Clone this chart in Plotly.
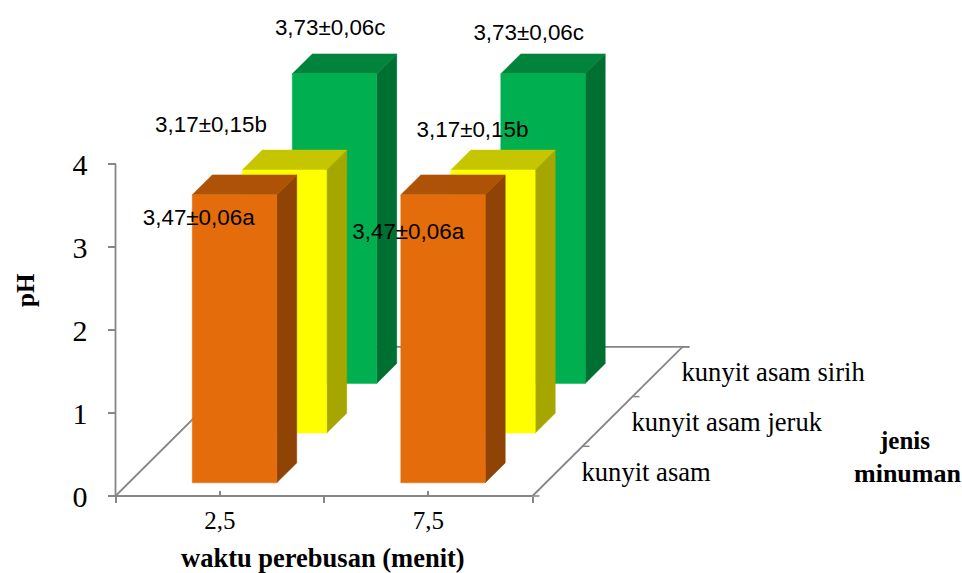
import plotly.graph_objects as go

# Chart data
times = ["2,5", "7,5"]
drinks = ["kunyit asam", "kunyit asam jeruk", "kunyit asam sirih"]
ph_asam = [3.47, 3.47]
ph_jeruk = [3.17, 3.17]
ph_sirih = [3.73, 3.73]
notes_asam = ["3,47±0,06a", "3,47±0,06a"]
notes_jeruk = ["3,17±0,15b", "3,17±0,15b"]
notes_sirih = ["3,73±0,06c", "3,73±0,06c"]
y_ticks = [0, 1, 2, 3, 4]

WIDTH = 962
HEIGHT = 573
# Where the origin of the chart sits on the page, and the pixels per axis unit
ORIGIN_X = 115.5
ORIGIN_Y = 496.0
PX_X = 208.5
PX_Y = 83.0
# Oblique projection: one drink step moves this many pixels right and up
DEPTH_PX_X = 50.0
DEPTH_PX_Y = 49.7
# Bar footprint, in axis units
BAR_W = 0.405
BAR_DEPTH = 0.4
BAR_FRONT = 0.266
BAR_CENTRE = 0.507

AXIS_GREY = "#868686"
SERIF = "Liberation Serif"
SANS = "Liberation Sans"

# front, side, top colour of each drink's bars
palettes = [
    ("#E46C0A", "#8F4406", "#AE5207"),
    ("#FFFF00", "#A6A600", "#C6C600"),
    ("#00B050", "#006F32", "#00843C"),
]
series = [ph_asam, ph_jeruk, ph_sirih]
notes = [notes_asam, notes_jeruk, notes_sirih]
# Label offsets from the top centre of each bar's front face, in pixels
note_offsets = [
    [(-35.8, 24.7), (-34.8, 38.7)],
    [(-73.5, -44.0), (-20.5, -38.7)],
    [(-4.3, -44.0), (-14.3, -39.0)],
]


def project(cat, value, depth):
    """Map (time axis, pH, drink depth) on to the flat x/y axes."""
    return (cat + depth * DEPTH_PX_X / PX_X, value + depth * DEPTH_PX_Y / PX_Y)


def polygon(points, colour):
    xs = [p[0] for p in points] + [points[0][0]]
    ys = [p[1] for p in points] + [points[0][1]]
    return go.Scatter(
        x=xs, y=ys, mode="lines", fill="toself", fillcolor=colour,
        line=dict(color=colour, width=0.5), hoverinfo="skip", showlegend=False,
    )


def line(points, width=1.8):
    return go.Scatter(
        x=[p[0] for p in points], y=[p[1] for p in points], mode="lines",
        line=dict(color=AXIS_GREY, width=width), hoverinfo="skip", showlegend=False,
    )


def page_note(text, px, py, size=25.0, angle=0):
    """A bold caption centred on page pixels, y measured from the top."""
    return dict(text=f"<b>{text}</b>", xref="paper", yref="paper",
                x=px / WIDTH, y=1 - py / HEIGHT, xanchor="center", yanchor="middle",
                textangle=angle, showarrow=False,
                font=dict(family=SERIF, size=size, color="black"))


fig = go.Figure()

n_cat = len(times)
n_depth = len(drinks)

# Axis lines, floor outline and the ticks of the depth axis
fig.add_trace(line([(0, y_ticks[-1]), (0, 0), (n_cat, 0)]))
fig.add_trace(line([project(0, 0, 0), project(0, 0, n_depth),
                    project(n_cat + 7 / PX_X, 0, n_depth)]))
fig.add_trace(line([project(n_cat, 0, 0), project(n_cat, 0, n_depth)]))
for d in range(n_depth + 1):
    fig.add_trace(line([project(n_cat, 0, d), project(n_cat + 7 / PX_X, 0, d)], 1.5))

# Bars, painted from the back row to the front row
for s in reversed(range(n_depth)):
    front, side, top = palettes[s]
    for c in range(n_cat):
        x0 = c + BAR_CENTRE - BAR_W / 2
        x1 = x0 + BAR_W
        d0 = s + BAR_FRONT
        d1 = d0 + BAR_DEPTH
        v = series[s][c]
        fig.add_trace(polygon([project(x1, 0, d0), project(x1, 0, d1),
                               project(x1, v, d1), project(x1, v, d0)], side))
        fig.add_trace(polygon([project(x0, v, d0), project(x1, v, d0),
                               project(x1, v, d1), project(x0, v, d1)], top))
        fig.add_trace(polygon([project(x0, 0, d0), project(x1, 0, d0),
                               project(x1, v, d0), project(x0, v, d0)], front))

# Value labels beside the bars
for s in range(n_depth):
    for c in range(n_cat):
        x, y = project(c + BAR_CENTRE, series[s][c], s + BAR_FRONT)
        ox, oy = note_offsets[s][c]
        fig.add_trace(go.Scatter(
            x=[x + ox / PX_X], y=[y - oy / PX_Y], mode="text", text=[notes[s][c]],
            textposition="middle center",
            textfont=dict(family=SANS, size=22.4, color="black"),
            hoverinfo="skip", showlegend=False,
        ))

# Drink names along the depth axis
for d, name in enumerate(drinks):
    x, y = project(n_cat + 24 / PX_X, -3 / PX_Y, d + 0.5)
    fig.add_trace(go.Scatter(
        x=[x], y=[y], mode="text", text=[name], textposition="middle right",
        textfont=dict(family=SERIF, size=26.6, color="black"),
        hoverinfo="skip", showlegend=False,
    ))

fig.update_layout(
    width=WIDTH, height=HEIGHT,
    margin=dict(l=0, r=0, t=0, b=0, pad=0),
    paper_bgcolor="white", plot_bgcolor="rgba(0,0,0,0)",
    showlegend=False,
    xaxis=dict(
        range=[-ORIGIN_X / PX_X, (WIDTH - ORIGIN_X) / PX_X],
        anchor="free", position=1 - ORIGIN_Y / HEIGHT,
        showgrid=False, zeroline=False, showline=False,
        tickmode="array", tickvals=[0.5, 1.5], ticktext=times,
        ticks="inside", ticklen=5, tickcolor=AXIS_GREY, tickwidth=1.5,
        minor=dict(tickmode="array", tickvals=[0, 1, 2], ticks="outside",
                   ticklen=6, tickcolor=AXIS_GREY, tickwidth=1.5),
        tickfont=dict(family=SERIF, size=25, color="black"),
        ticklabelstandoff=7,
    ),
    yaxis=dict(
        range=[(ORIGIN_Y - HEIGHT) / PX_Y, ORIGIN_Y / PX_Y],
        anchor="free", position=ORIGIN_X / WIDTH,
        showgrid=False, zeroline=False, showline=False,
        tickmode="array", tickvals=y_ticks,
        ticks="outside", ticklen=8, tickcolor=AXIS_GREY, tickwidth=1.5,
        tickfont=dict(family=SERIF, size=30, color="black"),
        ticklabelstandoff=14,
    ),
    annotations=[
        page_note("pH", 25, 290, angle=-90),
        page_note("waktu perebusan (menit)", 323, 558, size=26.5),
        page_note("jenis", 904, 440),
        page_note("minuman", 907, 473, size=26),
    ],
)

fig.write_html("out.html")
